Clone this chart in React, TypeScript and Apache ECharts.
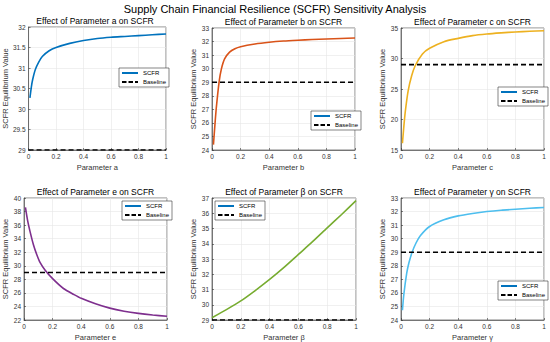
import React, { useEffect, useRef } from "react";
import * as echarts from "echarts";

const xTicks = [0, 0.2, 0.4, 0.6, 0.8, 1];
const baselineValue = 29;

const xA = [0.01, 0.02, 0.03, 0.05, 0.075, 0.1, 0.15, 0.2, 0.3, 0.4, 0.5, 0.6, 0.7, 0.8, 0.9, 1.0];
const yA = [30.27, 30.53, 30.72, 30.97, 31.15, 31.28, 31.42, 31.5, 31.6, 31.67, 31.72, 31.75, 31.77, 31.79, 31.81, 31.83];

const xB = [0.01, 0.02, 0.03, 0.05, 0.065, 0.088, 0.123, 0.16, 0.2, 0.3, 0.4, 0.5, 0.6, 0.7, 0.8, 0.9, 1.0];
const yB = [24.4, 25.8, 27.1, 29.05, 29.95, 30.72, 31.22, 31.47, 31.62, 31.82, 31.95, 32.04, 32.1, 32.15, 32.19, 32.23, 32.26];

const xC = [0.01, 0.02, 0.03, 0.05, 0.075, 0.1, 0.15, 0.2, 0.3, 0.4, 0.5, 0.6, 0.7, 0.8, 0.9, 1.0];
const yC = [16.1, 18.9, 21.3, 24.7, 27.2, 28.85, 30.75, 31.67, 32.76, 33.3, 33.75, 34.02, 34.2, 34.35, 34.46, 34.55];

const xE = [0.01, 0.025, 0.042, 0.066, 0.089, 0.112, 0.148, 0.2, 0.276, 0.35, 0.4, 0.5, 0.6, 0.7, 0.8, 0.9, 1.0];
const yE = [38.6, 36.7, 35.07, 33.1, 31.66, 30.5, 29.35, 28.1, 26.65, 25.75, 25.2, 24.4, 23.75, 23.3, 22.98, 22.74, 22.55];

const xBeta = [0, 0.1, 0.2, 0.3, 0.4, 0.5, 0.6, 0.7, 0.8, 0.9, 1.0];
const yBeta = [29.15, 29.68, 30.25, 30.93, 31.66, 32.45, 33.3, 34.15, 35.04, 35.92, 36.83];

const xG = [0.01, 0.02, 0.04, 0.055, 0.077, 0.105, 0.135, 0.2, 0.3, 0.4, 0.5, 0.6, 0.7, 0.8, 0.9, 1.0];
const yG = [24.72, 25.9, 27.45, 28.2, 28.98, 29.68, 30.22, 30.9, 31.39, 31.68, 31.86, 32.0, 32.1, 32.17, 32.24, 32.3];

const panelTitles = [
  "Effect of Parameter a on SCFR",
  "Effect of Parameter b on SCFR",
  "Effect of Parameter c on SCFR",
  "Effect of Parameter e on SCFR",
  "Effect of Parameter β on SCFR",
  "Effect of Parameter γ on SCFR",
];
const xNames = ["Parameter a", "Parameter b", "Parameter c", "Parameter e", "Parameter β", "Parameter γ"];
const yMin = [29, 24, 15, 22, 29, 24];
const yMax = [32, 33, 35, 40, 37, 33];
const yStep = [0.5, 1, 5, 2, 1, 1];
const colors = ["#0072BD", "#D95319", "#EDB120", "#7E2F8E", "#77AC30", "#4DBEEE"];
const xs = [xA, xB, xC, xE, xBeta, xG];
const ys = [yA, yB, yC, yE, yBeta, yG];

const grids = [
  { left: 24, top: 27, width: 142, height: 123 },
  { left: 212, top: 28, width: 143, height: 122 },
  { left: 401, top: 28, width: 143, height: 122 },
  { left: 24, top: 198, width: 143, height: 123 },
  { left: 212, top: 198, width: 144, height: 123 },
  { left: 401, top: 198, width: 143, height: 123 },
];
const legendPos = [
  { left: 119, top: 68 },
  { left: 311, top: 111 },
  { left: 498, top: 87 },
  { left: 122, top: 201 },
  { left: 215, top: 201 },
  { left: 498, top: 281 },
];

const FONT = "Liberation Sans, Arial, Helvetica, sans-serif";
const solidIcon = "path://M0,0h16v2h-16z";
const dashIcon = "path://M0,0h4.5v2h-4.5z M6.5,0h4.5v2h-4.5z M13,0h3v2h-3z";

export default function App() {
  const ref = useRef<HTMLDivElement>(null);
  useEffect(() => {
    if (!ref.current) return;
    const chart = echarts.init(ref.current, null, { renderer: "svg" });
    const titles: any[] = [
      {
        text: "Supply Chain Financial Resilience (SCFR) Sensitivity Analysis",
        left: 275,
        textAlign: "center",
        top: 3,
        padding: 0,
        textStyle: { fontSize: 11, fontWeight: "normal", color: "#000", fontFamily: FONT },
      },
    ];
    const xAxes: any[] = [];
    const yAxes: any[] = [];
    const series: any[] = [];
    const legends: any[] = [];
    grids.forEach((g, i) => {
      titles.push({
        text: panelTitles[i],
        left: g.left + g.width / 2,
        textAlign: "center",
        top: g.top - 11,
        padding: 0,
        textStyle: { fontSize: 8.5, fontWeight: "normal", color: "#000", fontFamily: FONT },
      });
      xAxes.push({
        type: "value",
        gridIndex: i,
        min: 0,
        max: 1,
        interval: 0.2,
        name: xNames[i],
        nameLocation: "middle",
        nameGap: 13,
        nameTextStyle: { fontSize: 7.5, color: "#333", fontFamily: FONT },
        axisLine: { show: true, onZero: false, lineStyle: { color: "#333", width: 0.6 } },
        axisTick: { show: true, inside: true, length: 2, lineStyle: { color: "#333", width: 0.6 } },
        axisLabel: {
          fontSize: 6.5,
          color: "#333",
          margin: 3,
          fontFamily: FONT,
          formatter: (v: number) => (xTicks.includes(Math.round(v * 10) / 10) ? String(Math.round(v * 10) / 10) : ""),
        },
        splitLine: { show: true, lineStyle: { color: "#e6e6e6", width: 0.6 } },
      });
      yAxes.push({
        type: "value",
        gridIndex: i,
        min: yMin[i],
        max: yMax[i],
        interval: yStep[i],
        name: "SCFR Equilibrium Value",
        nameLocation: "middle",
        nameGap: yStep[i] < 1 ? 17 : 12,
        nameTextStyle: { fontSize: 7.5, color: "#333", fontFamily: FONT },
        axisLine: { show: true, onZero: false, lineStyle: { color: "#333", width: 0.6 } },
        axisTick: { show: true, inside: true, length: 2, lineStyle: { color: "#333", width: 0.6 } },
        axisLabel: { fontSize: 6.5, color: "#333", margin: 3, fontFamily: FONT },
        splitLine: { show: true, lineStyle: { color: "#e6e6e6", width: 0.6 } },
      });
      series.push({
        type: "line",
        name: "SCFR",
        xAxisIndex: i,
        yAxisIndex: i,
        data: xs[i].map((x, k) => [x, ys[i][k]]),
        smooth: 0.25,
        showSymbol: false,
        symbol: "none",
        color: colors[i],
        lineStyle: { color: colors[i], width: 1.6 },
      });
      series.push({
        type: "line",
        name: "Baseline",
        xAxisIndex: i,
        yAxisIndex: i,
        data: [
          [0, baselineValue],
          [1, baselineValue],
        ],
        showSymbol: false,
        symbol: "none",
        color: "#000",
        lineStyle: { color: "#000", width: 1.6, type: [5, 3] },
        z: 3,
      });
      legends.push({
        left: legendPos[i].left,
        top: legendPos[i].top,
        orient: "vertical",
        itemWidth: 16,
        itemHeight: 2,
        itemGap: 3,
        padding: [2, 3, 2, 3],
        borderColor: "#333",
        borderWidth: 0.6,
        borderRadius: 0,
        backgroundColor: "#fff",
        textStyle: { fontSize: 6, color: "#000", fontFamily: FONT, padding: [0, 0, 0, 0] },
        data: [
          { name: "SCFR", icon: solidIcon },
          { name: "Baseline", icon: dashIcon },
        ],
      });
    });
    chart.setOption({
      animation: false,
      backgroundColor: "#fff",
      title: titles,
      grid: grids.map((g) => ({ ...g, show: true, borderColor: "#333", borderWidth: 0.6, backgroundColor: "#fff" })),
      xAxis: xAxes,
      yAxis: yAxes,
      series,
      legend: legends,
    });
    return () => chart.dispose();
  }, []);
  return <div ref={ref} style={{ position: "fixed", left: 0, top: 0, width: 550, height: 342 }} />;
}
